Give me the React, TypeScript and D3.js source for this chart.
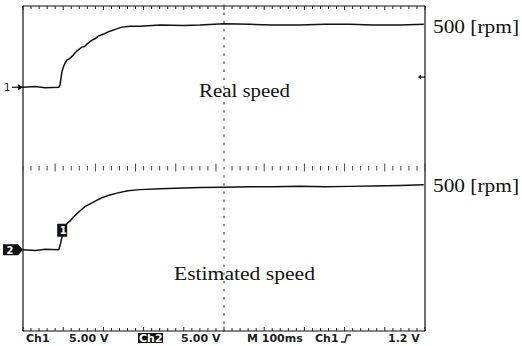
import React from 'react';
import * as d3 from 'd3';

// time in ms (10 div x 100 ms), level in divisions above each channel's ground marker
const ch1Time = [0, 30, 55, 89, 92, 97, 102, 109, 115, 122, 128, 134, 147, 153, 159, 172, 180, 187, 201, 216, 231, 246, 266, 291, 341, 400, 440, 500, 565, 620, 689, 750, 813, 870, 938, 997];
const ch1Level = [0, 0.02, -0.01, 0, 0.05, 0.39, 0.54, 0.67, 0.7, 0.76, 0.83, 0.89, 0.99, 1.0, 1.06, 1.16, 1.2, 1.26, 1.31, 1.38, 1.43, 1.48, 1.5, 1.5, 1.53, 1.52, 1.53, 1.56, 1.55, 1.53, 1.53, 1.55, 1.55, 1.53, 1.53, 1.55];

const ch2Time = [0, 30, 55, 89, 94, 99, 107, 117, 129, 142, 154, 167, 182, 196, 216, 236, 261, 291, 341, 400, 440, 500, 565, 620, 689, 750, 813, 870, 938, 997];
const ch2Level = [0, -0.02, 0.01, 0, 0.17, 0.42, 0.62, 0.71, 0.84, 0.96, 1.06, 1.13, 1.21, 1.28, 1.35, 1.4, 1.45, 1.48, 1.5, 1.52, 1.53, 1.54, 1.55, 1.55, 1.56, 1.55, 1.56, 1.57, 1.58, 1.6];

const ch1Ground = 2;
const ch2Ground = -2;

const traceLabels = ['Real speed', 'Estimated speed'];
const scaleLabel = '500 [rpm]';
const statusLabels = ['Ch1', '5.00 V', 'Ch2', '5.00 V', 'M 100ms', 'Ch1', '1.2 V'];

const W = 522;
const H = 346;

export default function App() {
  const x = d3.scaleLinear().domain([0, 1000]).range([23, 425]);
  const y = d3.scaleLinear().domain([-4, 4]).range([331, 6]);

  const line = d3.line<[number, number]>()
    .x(d => x(d[0]))
    .y(d => y(d[1]));

  const ch1 = ch1Time.map((t, i) => [t, ch1Level[i] + ch1Ground] as [number, number]);
  const ch2 = ch2Time.map((t, i) => [t, ch2Level[i] + ch2Ground] as [number, number]);

  // rulers: 5 minor ticks per division
  const minor = d3.range(0, 1000.1, 20);
  const vMinor = d3.range(-4, 4.01, 0.2);

  const serif = '"Liberation Serif", "DejaVu Serif", serif';
  const mono = '"DejaVu Sans", sans-serif';

  return (
    <svg width={W} height={H} style={{ position: 'absolute', left: 0, top: 0, background: '#fff' }}>
      <rect x={0} y={0} width={W} height={H} fill="#fff" />

      {/* frame */}
      <g stroke="#111" strokeWidth={1.2} fill="none">
        <line x1={x(0)} x2={x(1000)} y1={y(4)} y2={y(4)} />
        <line x1={x(0)} x2={x(1000)} y1={y(-4)} y2={y(-4)} />
        <line x1={x(0)} x2={x(0)} y1={y(4)} y2={y(-4)} />
        <line x1={x(1000)} x2={x(1000)} y1={y(4)} y2={y(-4)} />
      </g>

      {/* top and bottom rulers */}
      <g stroke="#222" strokeWidth={1}>
        {minor.map((t, i) => (
          <line key={'t' + i} x1={x(t)} x2={x(t)} y1={y(4)} y2={y(4) + (i % 5 === 0 ? 4 : 3)} />
        ))}
        {minor.map((t, i) => (
          <line key={'b' + i} x1={x(t)} x2={x(t)} y1={y(-4)} y2={y(-4) - (i % 5 === 0 ? 4 : 3)} />
        ))}
      </g>

      {/* center horizontal tick row */}
      <g stroke="#444" strokeWidth={1}>
        {minor.filter(t => Math.abs(t - 500) > 1).map((t, i) => (
          <line key={'m' + i} x1={x(t)} x2={x(t)} y1={y(0) - (i % 5 === 4 ? 5 : 2.5)} y2={y(0) + (i % 5 === 4 ? 3 : 2)} />
        ))}
      </g>

      {/* center vertical dotted line */}
      <g stroke="#333" strokeWidth={1}>
        {vMinor.map((v, i) => (
          <line key={'v' + i} x1={x(500)} x2={x(500)} y1={y(v) - 1.5} y2={y(v) + 1} />
        ))}
      </g>

      {/* traces */}
      <path d={line(ch1) || ''} fill="none" stroke="#111" strokeWidth={1.5} />
      <path d={line(ch2) || ''} fill="none" stroke="#111" strokeWidth={1.5} />

      {/* channel 1 ground marker */}
      <text x={4} y={y(ch1Ground) + 3.5} fontFamily={mono} fontSize={10} fill="#111">1</text>
      <line x1={12} x2={x(0)} y1={y(ch1Ground)} y2={y(ch1Ground)} stroke="#111" strokeWidth={1.2} />
      <path d={`M${x(0)},${y(ch1Ground)} l-5,-3 l0,6 z`} fill="#111" />

      {/* channel 2 ground marker */}
      <rect x={3} y={y(ch2Ground) - 5.5} width={15} height={11} fill="#111" />
      <text x={6.5} y={y(ch2Ground) + 4} fontFamily={mono} fontWeight="bold" fontSize={10} fill="#fff">2</text>
      <path d={`M18,${y(ch2Ground) - 5.5} L${x(0)},${y(ch2Ground)} L18,${y(ch2Ground) + 5.5} z`} fill="#111" />

      {/* trigger marker */}
      <rect x={x(85)} y={y(ch2Ground + 0.48) - 6.5} width={10} height={13} fill="#111" />
      <text x={x(85) + 2.5} y={y(ch2Ground + 0.48) + 4} fontFamily={mono} fontWeight="bold" fontSize={10} fill="#fff">1</text>

      {/* trigger level marker on right */}
      <line x1={x(1000) - 6} x2={x(1000)} y1={y(2.25)} y2={y(2.25)} stroke="#111" strokeWidth={1.2} />
      <path d={`M${x(1000) - 7},${y(2.25)} l3,-2.5 l0,5 z`} fill="#111" />

      {/* annotations */}
      <text x={199} y={97} fontFamily={serif} fontSize={19} textLength={91} lengthAdjust="spacingAndGlyphs" fill="#111">{traceLabels[0]}</text>
      <text x={174} y={280} fontFamily={serif} fontSize={19} textLength={141} lengthAdjust="spacingAndGlyphs" fill="#111">{traceLabels[1]}</text>
      <text x={433} y={33} fontFamily={serif} fontSize={19} textLength={86} lengthAdjust="spacingAndGlyphs" fill="#111">{scaleLabel}</text>
      <text x={433} y={192} fontFamily={serif} fontSize={19} textLength={86} lengthAdjust="spacingAndGlyphs" fill="#111">{scaleLabel}</text>

      {/* status line */}
      <g fontFamily={mono} fontWeight="bold" fontSize={11} fill="#222">
        <text x={26} y={342}>{statusLabels[0]}</text>
        <text x={69} y={342}>{statusLabels[1]}</text>
        <rect x={138} y={333} width={25} height={10} fill="#111" />
        <text x={139} y={342} fill="#fff">{statusLabels[2]}</text>
        <text x={181} y={342}>{statusLabels[3]}</text>
        <text x={247} y={342}>{statusLabels[4]}</text>
        <text x={315} y={342}>{statusLabels[5]}</text>
        <path d="M341,342 l4,0 l2,-7 l4,0" fill="none" stroke="#222" strokeWidth={1.4} />
        <text x={388} y={342}>{statusLabels[6]}</text>
      </g>
    </svg>
  );
}
